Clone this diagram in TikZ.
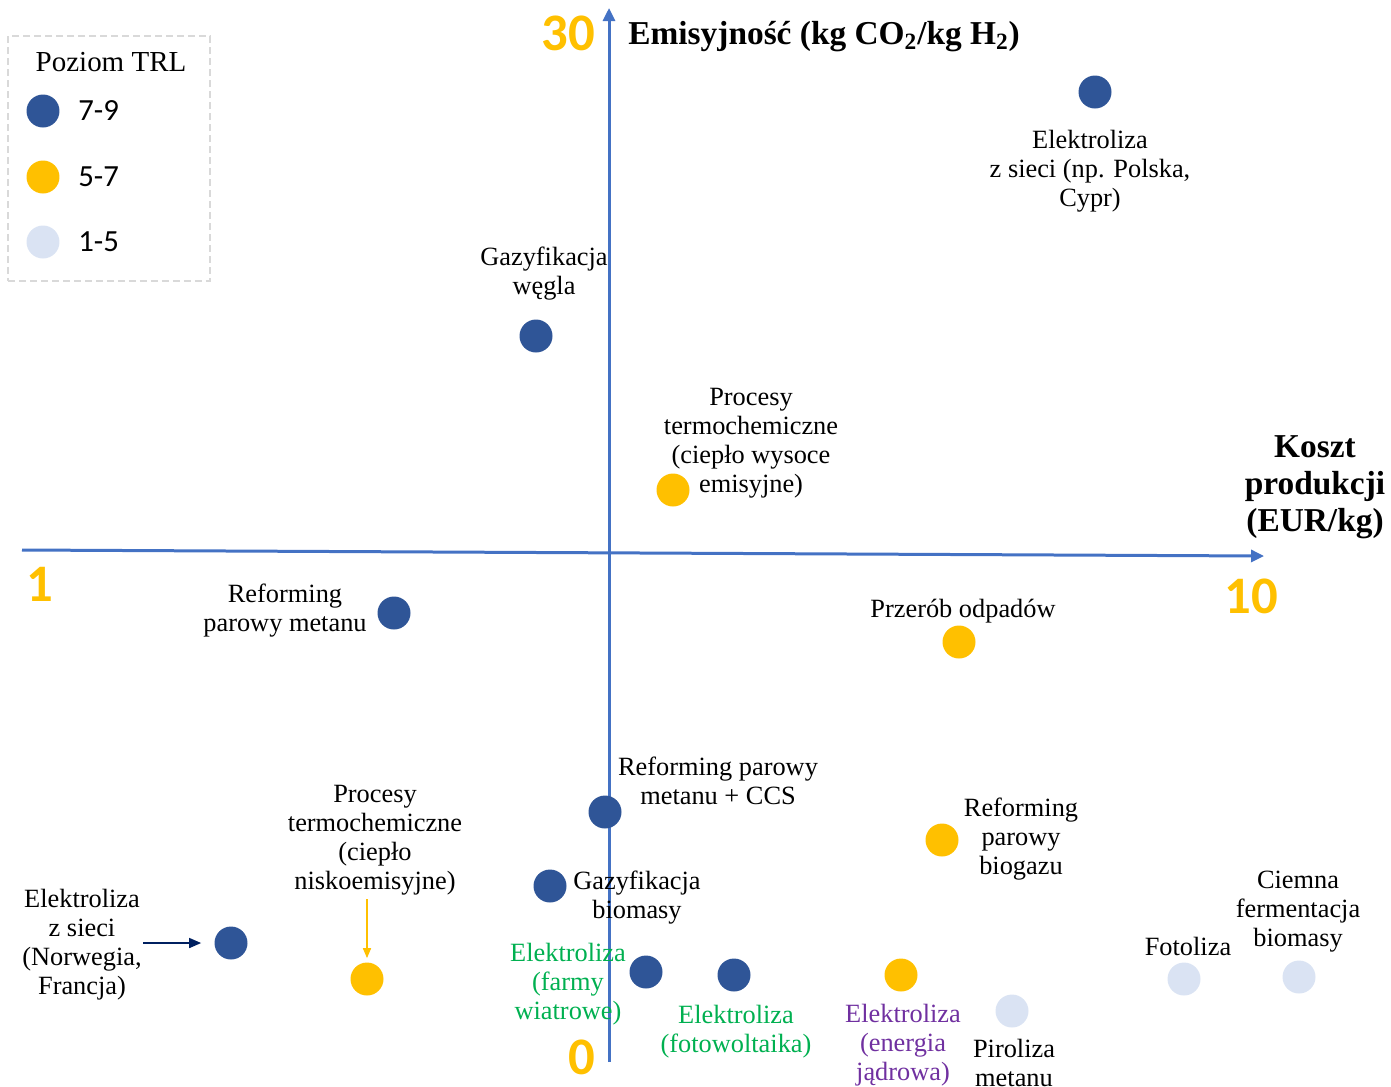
\documentclass[tikz,border=0pt]{standalone}
\usepackage{fontspec}
\setmainfont{Liberation Serif}
\newfontfamily\calib{Carlito}
\usetikzlibrary{arrows.meta}
\definecolor{dblue}{HTML}{2F5597}
\definecolor{yel}{HTML}{FFC000}
\definecolor{lblue}{HTML}{DAE3F3}
\definecolor{axcol}{HTML}{4472C4}
\definecolor{grn}{HTML}{00B050}
\definecolor{prp}{HTML}{7030A0}
\definecolor{navy}{HTML}{002060}
\begin{document}
\begin{tikzpicture}[x=0.02cm,y=-0.02cm,
  lbl/.style={align=center, inner sep=0pt, font=\fontsize{15}{16.5}\selectfont},
  dot/.style={circle, minimum size=0.66cm, inner sep=0pt},
  dk/.style={dot, fill=dblue},
  ye/.style={dot, fill=yel},
  lb/.style={dot, fill=lblue},
  axisline/.style={draw=axcol, line width=0.06cm, -{Triangle[length=0.26cm,width=0.24cm]}},
  num/.style={text=yel, inner sep=0pt, font=\calib\bfseries\fontsize{30}{30}\selectfont},
  axtitle/.style={align=center, inner sep=0pt, font=\bfseries\fontsize{19}{21}\selectfont},
  legnum/.style={anchor=west, inner sep=0pt, font=\calib\fontsize{17.5}{20}\selectfont}]
\useasboundingbox (0,0) rectangle (1391,1086);

% axes
\coordinate (yb) at (609,1062);
\coordinate (yt) at (609,8);
\coordinate (xl) at (22,550);
\coordinate (xr) at (1264,556);
\draw[axisline] (yb) -- (yt);
\draw[axisline] (xl) -- (xr);

% axis numbers
\node[num] (n30) at (568,33) {30};
\node[num] (n1) at (40,584) {1};
\node[num] (n10) at (1251,596) {10};
\node[num] (n0) at (582,1057) {0};

% axis titles
\node[axtitle, anchor=west] (ytitle) at (628,37) {Emisyjność (kg CO\textsubscript{2}/kg H\textsubscript{2})};
\node[axtitle] (xtitle) at (1315,487) {Koszt\\produkcji\\(EUR/kg)};

% legend
\node[draw=black!15, dashed, dash pattern=on 0.14cm off 0.08cm, line width=0.04cm,
      minimum width=4.04cm, minimum height=4.9cm, inner sep=0pt] (legbox) at (109,158.5) {};
\node[inner sep=0pt, font=\fontsize{16.5}{18}\selectfont] (legtitle) at (111,62) {Poziom TRL};
\node[dk] (leg1) at (43,111) {};
\node[ye] (leg2) at (43,177) {};
\node[lb] (leg3) at (43,242) {};
\node[legnum] (leg1t) at (78,111) {7-9};
\node[legnum] (leg2t) at (78,177) {5-7};
\node[legnum] (leg3t) at (78,242) {1-5};

% data points
\node[dk] (p1) at (1095,92) {};
\node[lbl] (t1) at (1090,171) {Elektroliza\\z sieci (np. Polska,\\Cypr)};

\node[dk] (p2) at (536,336) {};
\node[lbl] (t2) at (544,274) {Gazyfikacja\\węgla};

\node[ye] (p3) at (673,490) {};
\node[lbl] (t3) at (751,443) {Procesy\\termochemiczne\\(ciepło wysoce\\emisyjne)};

\node[dk] (p4) at (394,613) {};
\node[lbl] (t4) at (285,611) {Reforming\\parowy metanu};

\node[ye] (p5) at (959,642) {};
\node[lbl] (t5) at (963,611) {Przerób odpadów};

\node[dk] (p6) at (605,812) {};
\node[lbl] (t6) at (718,781) {Reforming parowy\\metanu + CCS};

\node[ye] (p7) at (942,840) {};
\node[lbl] (t7) at (1021,839) {Reforming\\parowy\\biogazu};

\node[ye] (p8) at (367,979) {};
\node[lbl] (t8) at (375,840) {Procesy\\termochemiczne\\(ciepło\\niskoemisyjne)};
\draw[yel, line width=0.03cm, -{Triangle[length=0.2cm,width=0.16cm]}, shorten <=0.08cm, shorten >=0.08cm] (t8.south -| p8) -- (p8.north);

\node[dk] (p9) at (550,886) {};
\node[lbl] (t9) at (637,898) {Gazyfikacja\\biomasy};

\node[dk] (p10) at (231,943) {};
\node[lbl] (t10) at (82,945) {Elektroliza\\z sieci\\(Norwegia,\\Francja)};
\coordinate (a10) at (143,943);
\draw[navy, line width=0.03cm, -{Triangle[length=0.24cm,width=0.2cm]}, shorten >=0.26cm] (a10) -- (p10.west);

\node[dk] (p11) at (646,972) {};
\node[lbl, text=grn] (t11) at (568,984) {Elektroliza\\(farmy\\wiatrowe)};

\node[dk] (p12) at (734,975) {};
\node[lbl, text=grn] (t12) at (736,1032) {Elektroliza\\(fotowoltaika)};

\node[ye] (p13) at (901,975) {};
\node[lbl, text=prp] (t13) at (903,1045) {Elektroliza\\(energia\\jądrowa)};

\node[lb] (p14) at (1012,1011) {};
\node[lbl] (t14) at (1014,1063) {Piroliza\\metanu};

\node[lb] (p15) at (1184,979) {};
\node[lbl] (t15) at (1188,946) {Fotoliza};

\node[lb] (p16) at (1299,977) {};
\node[lbl] (t16) at (1298,912) {Ciemna\\fermentacja\\biomasy};
\end{tikzpicture}
\end{document}
